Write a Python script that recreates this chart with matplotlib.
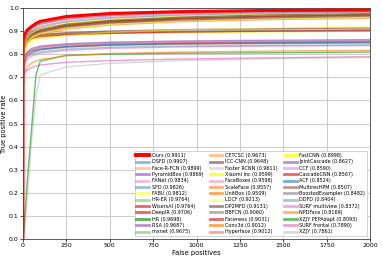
import numpy as np
import matplotlib
matplotlib.use('Agg')
import matplotlib.pyplot as plt

# false positive grid shared by all curves
fp = [0, 1, 10, 25, 50, 75, 100, 250, 500, 900, 1400, 2000]

methods = ['Ours', 'DSFD', 'Face-R-FCN', 'PyramidBox', 'FANet', 'SFD', 'FABU', 'HR-ER',
           'WisersAI', 'DeepIR', 'HR', 'RSA', 'mxnet',
           'CETCSC', 'ICC-CNN', 'Faster RCNN', 'Xiaomi inc', 'FaceBoxes', 'ScaleFace',
           'UnitBox', 'LDCF', 'DP2MFD', 'BBFCN', 'Faceness', 'Conv3d', 'Hyperface',
           'FastCNN', 'JointCascade', 'CCF', 'CascadeCNN', 'ACF', 'MultiresHPM',
           'BoostedExampler', 'DDFD', 'SURF multiview', 'NPDFace', 'XZJY PEPAdapt',
           'SURF frontal', 'XZJY']

scores = [0.9911, 0.9907, 0.9899, 0.9869, 0.9834, 0.9826, 0.9812, 0.9764, 0.9764, 0.9706,
          0.9698, 0.9687, 0.9675, 0.9673, 0.9648, 0.9611, 0.9599, 0.9598, 0.9557, 0.9509,
          0.9213, 0.9131, 0.9060, 0.9031, 0.9012, 0.9012, 0.8998, 0.8627, 0.8590, 0.8567,
          0.8524, 0.8507, 0.8482, 0.8404, 0.8372, 0.8169, 0.8093, 0.7890, 0.7861]

nan = np.nan
tpr = [
    [0, .860, .885, .905, .920, .933, .942, .963, .976, .984, .989, .9911],
    [0, .850, .878, .898, .915, .927, .936, .958, .972, .982, .988, .9907],
    [0, .845, .872, .893, .910, .921, .930, .954, .969, .980, .986, .9899],
    [0, .855, .880, .898, .912, .922, .930, .952, .966, .977, .983, .9869],
    [0, .830, .862, .885, .903, .913, .922, .945, .960, .972, .979, .9834],
    [0, .835, .865, .885, .900, .910, .918, .940, .956, .969, .977, .9826],
    [0, .800, .845, .872, .892, .903, .912, .935, .952, .966, .975, .9812],
    [0, .820, .855, .875, .890, .900, .908, .930, .947, .961, .970, .9764],
    [0, .840, .865, .882, .895, .903, .910, .930, .946, .960, .970, .9764],
    [0, .825, .855, .872, .886, .895, .902, .924, .940, .954, .963, .9706],
    [0, .810, .850, .870, .885, .894, .902, .925, .942, .955, .964, .9698],
    [0, .800, .840, .862, .880, .890, .898, .922, .940, .954, .963, .9687],
    [0, .815, .850, .870, .885, .893, .900, .922, .938, .952, .961, .9675],
    [0, .790, .835, .860, .878, .888, .896, .920, .938, .952, .961, .9673],
    [0, .820, .850, .866, .880, .889, .896, .918, .935, .948, .957, .9648],
    [0, .800, .840, .860, .875, .884, .892, .915, .932, .945, .954, .9611],
    [0, .780, .830, .855, .872, .882, .890, .912, .930, .944, .953, .9599],
    [0, .810, .845, .862, .875, .883, .890, .912, .930, .945, .953, .9598],
    [0, .790, .830, .850, .866, .876, .884, .908, .926, .940, .949, .9557],
    [0, .780, .825, .850, .870, .881, .890, .915, .935, .9509, nan, nan],
    [0, .720, .800, .830, .850, .858, .865, .880, .895, .905, .914, .9213],
    [0, .780, .840, .862, .875, .880, .885, .893, .900, .906, .910, .9131],
    [0, .800, .850, .865, .875, .879, .882, .890, .896, .900, .903, .9060],
    [0, .780, .840, .858, .868, .872, .876, .884, .890, .896, .900, .9031],
    [0, .800, .850, .865, .873, .877, .880, .887, .892, .896, .899, .9012],
    [0, .830, .860, .870, .876, .879, .882, .888, .893, .897, .899, .9012],
    [0, .780, .830, .850, .862, .867, .872, .882, .889, .894, .897, .8998],
    [0, .740, .790, .810, .825, .830, .835, .845, .852, .857, .860, .8627],
    [0, .720, .780, .800, .815, .822, .828, .840, .848, .853, .856, .8590],
    [0, .750, .790, .805, .818, .824, .830, .840, .847, .851, .854, .8567],
    [0, .750, .785, .800, .812, .817, .822, .834, .842, .847, .850, .8524],
    [0, .730, .780, .800, .812, .817, .822, .832, .840, .845, .848, .8507],
    [0, .700, .765, .790, .805, .812, .818, .830, .838, .843, .846, .8482],
    [0, .720, .770, .790, .800, .805, .810, .822, .830, .835, .838, .8404],
    [0, .700, .755, .778, .792, .798, .804, .816, .825, .831, .835, .8372],
    [0, .650, .720, .745, .762, .770, .777, .793, .803, .809, .813, .8169],
    [0, .010, .080, .250, .480, .710, .770, .795, .800, .804, .806, .8093],
    [0, .700, .722, .732, .742, .748, .753, .765, .772, .779, .784, .7890],
    [0, .005, .050, .180, .420, .620, .710, .745, .760, .772, .780, .7861],
]

colors = ['red', 'tab:blue', 'tab:orange', 'tab:purple', 'tab:pink', 'tab:blue', 'yellow',
          'tab:green', 'tab:red', 'tab:red', 'tab:green', 'tab:purple', 'tab:green',
          'tab:orange', 'tab:brown', 'silver', 'yellow', 'tab:pink', 'tab:orange',
          'tab:orange', 'yellow', 'tab:brown', 'tab:gray', 'tab:red', 'tab:orange',
          'lightcoral', 'yellow', 'tab:purple', 'plum', 'tab:red', 'tab:blue', 'tab:brown',
          'tab:gray', 'tab:blue', 'tab:pink', 'tab:orange', 'tab:green', 'tab:pink', 'silver']
alphas = [1.0, 0.5, 0.4, 0.7, 0.5, 0.45, 0.5, 0.4, 0.7, 0.7, 0.8, 0.7, 0.4,
          0.5, 0.7, 0.5, 0.8, 0.5, 0.6, 0.7, 0.4, 0.7, 0.6, 0.7, 0.7, 0.7,
          0.8, 0.7, 0.7, 0.7, 0.6, 0.6, 0.6, 0.4, 0.6, 0.6, 0.7, 0.7, 0.6]

fig = plt.figure(figsize=(3.82, 2.56), dpi=100)
ax = fig.add_axes([0.060, 0.066, 0.909, 0.903])

for i in range(len(methods) - 1, -1, -1):
    lw = 2.2 if i == 0 else 1.0
    ax.plot(fp, tpr[i], color=colors[i], alpha=alphas[i], lw=lw,
            label='{} ({:.4f})'.format(methods[i], scores[i]), zorder=3 if i == 0 else 2)

ax.set_xlim(0, 2000)
ax.set_ylim(0, 1.0)
ax.set_xticks(np.arange(0, 2001, 250))
ax.set_yticks(np.arange(0, 1.01, 0.1))
ax.tick_params(labelsize=4.5, length=2, width=0.5, pad=1)
ax.grid(True, color='#cccccc', lw=0.8)
ax.set_axisbelow(True)
for s in ax.spines.values():
    s.set_linewidth(0.6)
    s.set_color('#444444')
ax.set_xlabel('False positives', fontsize=4.8, labelpad=1)
ax.set_ylabel('True positive rate', fontsize=4.8, labelpad=1)

h, l = ax.get_legend_handles_labels()
h, l = h[::-1], l[::-1]
leg = ax.legend(h, l, loc='lower right', ncol=3, fontsize=3.5, handlelength=2.6,
                labelspacing=0.28, columnspacing=1.4, handletextpad=0.5,
                borderpad=0.4, borderaxespad=0.6, framealpha=1.0, fancybox=False,
                edgecolor='#cccccc')
leg.get_frame().set_linewidth(0.6)
for lh in leg.get_lines():
    lh.set_linewidth(2.0)
leg.get_lines()[0].set_linewidth(2.8)

fig.savefig('out.png', dpi=100)
